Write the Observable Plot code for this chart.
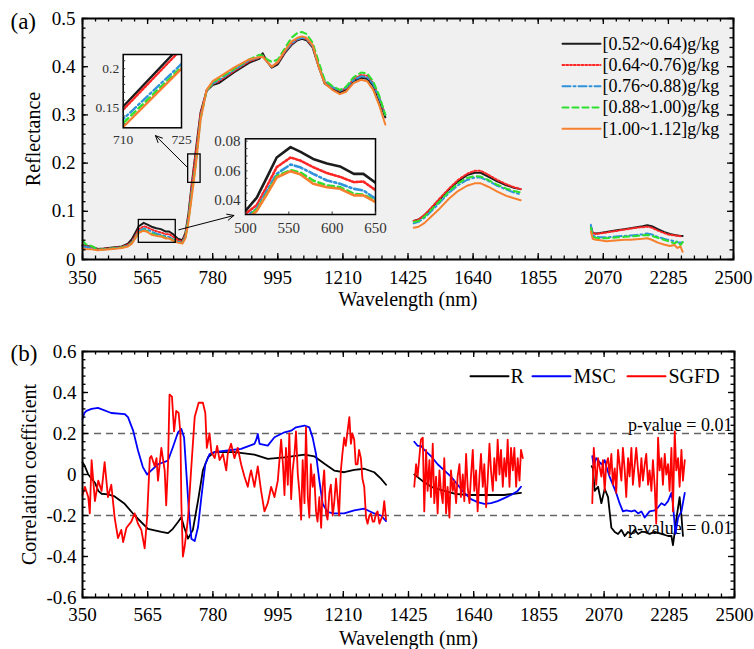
<!DOCTYPE html>
<html>
<head>
<meta charset="utf-8">
<script src="https://cdn.jsdelivr.net/npm/d3@7"></script>
<script src="https://cdn.jsdelivr.net/npm/@observablehq/plot@0.6"></script>
<style>
  body { margin: 0; background: #fff; }
  #wrap { position: relative; width: 754px; height: 649px; overflow: hidden; }
  #wrap > svg { display: block; }
</style>
</head>
<body>
<div id="wrap"></div>
<script>
const FONT = '"Liberation Serif", "Times New Roman", Times, serif';

// ---------------- Panel (a): reflectance ----------------
const waveA1 = [350,360,380,400,420,450,480,500,513,525,536,552,563,578,594,609,625,636,650,665,680,690,700,710,725,740,760,780,800,850,900,935,945,960,975,995,1020,1040,1060,1075,1090,1110,1130,1150,1175,1200,1220,1245,1270,1290,1310,1330,1350];
const waveA2 = [1444,1460,1480,1500,1530,1560,1590,1620,1645,1665,1690,1720,1750,1775,1797];
const waveA3 = [2029,2035,2045,2060,2080,2100,2120,2140,2160,2180,2200,2215,2230,2250,2270,2290,2305,2315,2325,2332];

const refl1_1 = [0.030,0.028,0.027,0.022,0.023,0.025,0.027,0.033,0.042,0.056,0.069,0.076,0.073,0.068,0.065,0.063,0.058,0.058,0.052,0.043,0.040,0.055,0.095,0.152,0.230,0.305,0.350,0.362,0.366,0.388,0.408,0.417,0.428,0.410,0.398,0.405,0.430,0.445,0.455,0.458,0.455,0.440,0.400,0.365,0.355,0.347,0.352,0.370,0.377,0.375,0.360,0.330,0.295];
const refl1_2 = [0.080,0.083,0.092,0.105,0.125,0.145,0.162,0.175,0.180,0.180,0.172,0.162,0.154,0.149,0.146];
const refl1_3 = [0.068,0.055,0.054,0.055,0.057,0.059,0.061,0.063,0.065,0.067,0.069,0.071,0.069,0.063,0.057,0.053,0.051,0.050,0.049,0.049];

const refl2_1 = [0.028,0.027,0.025,0.021,0.022,0.024,0.026,0.031,0.037,0.050,0.0625,0.069,0.067,0.0625,0.0585,0.056,0.0524,0.0528,0.047,0.040,0.037,0.052,0.090,0.148,0.225,0.303,0.351,0.364,0.370,0.391,0.411,0.419,0.424,0.410,0.400,0.408,0.432,0.447,0.457,0.460,0.457,0.442,0.402,0.368,0.357,0.350,0.355,0.374,0.383,0.381,0.366,0.336,0.300];
const refl2_2 = [0.080,0.083,0.093,0.106,0.127,0.147,0.165,0.178,0.184,0.184,0.176,0.165,0.156,0.150,0.146];
const refl2_3 = [0.068,0.055,0.053,0.054,0.056,0.058,0.060,0.062,0.064,0.066,0.067,0.068,0.066,0.060,0.055,0.051,0.050,0.049,0.048,0.048];

const refl3_1 = [0.027,0.026,0.024,0.020,0.021,0.023,0.025,0.029,0.0345,0.0468,0.058,0.0643,0.0625,0.058,0.0535,0.0513,0.0479,0.0468,0.0412,0.037,0.035,0.048,0.085,0.136,0.206,0.295,0.350,0.365,0.372,0.393,0.413,0.420,0.422,0.410,0.400,0.410,0.433,0.448,0.457,0.460,0.458,0.443,0.403,0.370,0.358,0.350,0.356,0.372,0.380,0.378,0.364,0.335,0.300];
const refl3_2 = [0.075,0.078,0.087,0.099,0.118,0.138,0.154,0.165,0.170,0.170,0.163,0.153,0.145,0.139,0.135];
const refl3_3 = [0.072,0.050,0.047,0.046,0.046,0.047,0.048,0.049,0.050,0.051,0.052,0.054,0.052,0.047,0.043,0.040,0.038,0.036,0.035,0.036];

const refl4_1 = [0.040,0.032,0.028,0.021,0.021,0.023,0.025,0.028,0.034,0.045,0.0565,0.0605,0.059,0.0535,0.0502,0.049,0.0446,0.044,0.040,0.036,0.034,0.046,0.082,0.131,0.202,0.292,0.350,0.367,0.375,0.395,0.415,0.425,0.423,0.415,0.410,0.415,0.440,0.460,0.470,0.472,0.468,0.450,0.410,0.372,0.360,0.352,0.358,0.378,0.388,0.386,0.370,0.340,0.300];
const refl4_2 = [0.078,0.080,0.089,0.102,0.121,0.141,0.158,0.169,0.173,0.172,0.165,0.155,0.147,0.142,0.139];
const refl4_3 = [0.066,0.047,0.045,0.044,0.044,0.045,0.046,0.047,0.048,0.049,0.050,0.051,0.049,0.045,0.041,0.037,0.033,0.038,0.030,0.036];

const refl5_1 = [0.023,0.022,0.021,0.019,0.020,0.022,0.024,0.027,0.033,0.0445,0.0555,0.0598,0.0577,0.0513,0.049,0.0479,0.0435,0.0435,0.039,0.035,0.033,0.044,0.078,0.126,0.200,0.290,0.352,0.370,0.378,0.398,0.415,0.420,0.420,0.410,0.400,0.410,0.435,0.452,0.460,0.463,0.460,0.445,0.400,0.365,0.352,0.343,0.348,0.366,0.373,0.370,0.352,0.320,0.280];
const refl5_2 = [0.066,0.068,0.076,0.088,0.106,0.126,0.142,0.153,0.158,0.158,0.151,0.141,0.132,0.127,0.123];
const refl5_3 = [0.058,0.043,0.041,0.040,0.038,0.039,0.040,0.041,0.041,0.042,0.043,0.044,0.041,0.035,0.031,0.028,0.030,0.024,0.027,0.016];

const classNames = ["[0.52~0.64)g/kg","[0.64~0.76)g/kg","[0.76~0.88)g/kg","[0.88~1.00)g/kg","[1.00~1.12]g/kg"];

// zoom boxes and arrows (data coordinates)
const boxEdge = {x1: 699, x2: 740, y1: 0.159, y2: 0.218};
const boxGreen = {x1: 536, x2: 658, y1: 0.0346, y2: 0.082};
const zoomArrows = [
  {x1: 696, y1: 0.1915, x2: 591, y2: 0.257},
  {x1: 668, y1: 0.0616, x2: 850, y2: 0.0913}
];
const inset1X = [710, 725];
const inset1Y = [0.15, 0.2];
const inset2X = [500, 550, 600, 650];
const inset2Y = [0.04, 0.06, 0.08];

// ---------------- Panel (b): correlation ----------------
const corrR1 = [[350,0.06],[358,0.04],[369,0.0],[380,-0.02],[391,-0.04],[402,-0.08],[413,-0.094],[434,-0.097],[456,-0.107],[489,-0.143],[522,-0.20],[566,-0.265],[610,-0.28],[632,-0.286],[648,-0.265],[665,-0.232],[676,-0.208],[685,-0.256],[698,-0.313],[714,-0.27],[731,-0.127],[747,0.02],[764,0.084],[785,0.109],[851,0.109],[917,0.097],[961,0.076],[1016,0.084],[1082,0.097],[1115,0.088],[1148,0.052],[1180,0.019],[1213,0.011],[1246,0.023],[1279,0.028],[1312,0.011],[1334,-0.02],[1351,-0.05]];
const corrR2 = [[1444,0.0],[1470,-0.03],[1500,-0.06],[1543,-0.08],[1580,-0.095],[1620,-0.10],[1680,-0.10],[1740,-0.10],[1796,-0.09]];
const corrR3 = [[2029,0.04],[2033,0.03],[2039,-0.08],[2050,-0.06],[2061,-0.14],[2072,-0.07],[2083,-0.11],[2094,-0.26],[2105,-0.28],[2116,-0.29],[2127,-0.27],[2138,-0.30],[2149,-0.28],[2160,-0.29],[2171,-0.27],[2182,-0.29],[2193,-0.28],[2204,-0.28],[2220,-0.29],[2237,-0.28],[2259,-0.29],[2281,-0.30],[2292,-0.30],[2297,-0.345],[2303,-0.28],[2308,-0.22],[2319,-0.11],[2325,-0.20],[2330,-0.30]];

const corrMSC1 = [[350,0.27],[356,0.30],[363,0.31],[380,0.32],[401,0.325],[445,0.30],[489,0.295],[500,0.28],[517,0.214],[533,0.117],[549,0.036],[563,0.0],[577,0.02],[599,0.05],[632,0.068],[648,0.133],[665,0.206],[676,0.222],[685,0.18],[692,0.02],[700,-0.16],[709,-0.313],[720,-0.325],[731,-0.256],[742,-0.11],[755,0.05],[769,0.10],[785,0.109],[829,0.117],[873,0.125],[917,0.149],[923,0.17],[928,0.198],[934,0.149],[961,0.141],[983,0.182],[1016,0.206],[1038,0.214],[1054,0.23],[1082,0.239],[1098,0.23],[1109,0.18],[1120,0.10],[1131,-0.03],[1142,-0.143],[1158,-0.183],[1180,-0.19],[1213,-0.19],[1246,-0.175],[1279,-0.167],[1312,-0.19],[1334,-0.20],[1351,-0.227]];
const corrMSC2 = [[1444,0.16],[1455,0.14],[1466,0.14],[1477,0.12],[1499,0.09],[1521,0.05],[1543,0.02],[1565,-0.01],[1587,-0.05],[1609,-0.09],[1631,-0.12],[1653,-0.135],[1675,-0.143],[1697,-0.14],[1719,-0.13],[1741,-0.115],[1763,-0.10],[1785,-0.08],[1796,-0.06]];
const corrMSC3 = [[2031,0.09],[2036,0.04],[2044,0.08],[2061,0.05],[2072,0.07],[2077,0.04],[2088,-0.01],[2099,-0.05],[2110,-0.09],[2121,-0.14],[2132,-0.18],[2143,-0.175],[2160,-0.18],[2171,-0.175],[2182,-0.19],[2193,-0.18],[2204,-0.21],[2220,-0.18],[2237,-0.175],[2248,-0.16],[2259,-0.14],[2270,-0.15],[2281,-0.13],[2292,-0.09],[2297,-0.14],[2305,-0.29],[2314,-0.21],[2325,-0.18],[2336,-0.09]];

const corrSG1 = [[350,-0.10],[358,-0.06],[369,-0.11],[374,-0.19],[380,0.07],[391,-0.13],[402,-0.03],[413,-0.08],[423,0.06],[434,-0.11],[445,-0.05],[456,-0.21],[467,-0.31],[478,-0.27],[484,-0.33],[495,-0.26],[511,-0.23],[522,-0.19],[533,-0.24],[544,-0.27],[555,-0.36],[563,-0.21],[572,0.08],[577,0.09],[588,0.04],[594,0.08],[599,-0.03],[610,0.13],[621,0.02],[626,-0.15],[632,0.05],[637,0.39],[645,0.38],[652,0.21],[659,0.31],[667,0.30],[673,0.20],[676,-0.14],[681,-0.40],[687,-0.35],[692,-0.29],[698,-0.21],[709,0.04],[720,0.28],[733,0.35],[747,0.35],[755,0.30],[760,0.13],[769,0.20],[775,0.11],[786,0.08],[794,0.14],[802,0.07],[813,0.10],[824,0.02],[829,0.10],[840,0.15],[851,0.08],[862,0.13],[873,0.05],[884,-0.01],[895,-0.06],[901,-0.01],[906,0.02],[917,-0.06],[928,0.04],[939,-0.08],[950,-0.18],[961,-0.14],[972,-0.06],[983,-0.11],[994,-0.03],[1005,0.17],[1011,0.05],[1016,-0.10],[1021,0.13],[1027,-0.05],[1032,0.20],[1038,-0.12],[1043,0.02],[1049,0.10],[1054,0.21],[1060,0.00],[1065,-0.08],[1071,-0.22],[1076,0.07],[1082,-0.14],[1087,0.23],[1093,-0.11],[1098,-0.21],[1103,0.05],[1109,-0.06],[1114,0.00],[1120,-0.18],[1125,-0.23],[1131,-0.11],[1137,-0.26],[1142,-0.06],[1147,0.02],[1153,-0.19],[1158,-0.22],[1164,-0.09],[1169,-0.05],[1175,-0.20],[1180,-0.14],[1186,-0.02],[1191,-0.11],[1196,-0.20],[1202,0.02],[1207,0.10],[1213,0.18],[1218,0.14],[1224,0.21],[1230,0.28],[1235,0.15],[1240,0.20],[1246,0.17],[1251,0.05],[1257,0.05],[1262,0.12],[1268,0.08],[1273,-0.02],[1279,-0.06],[1285,-0.21],[1290,-0.24],[1296,-0.20],[1301,-0.19],[1307,-0.23],[1312,-0.23],[1318,-0.19],[1323,-0.18],[1329,-0.24],[1334,-0.22],[1340,-0.20],[1345,-0.13],[1351,-0.22]];
const corrSG2 = [[1444,-0.06],[1450,0.05],[1455,-0.01],[1466,0.17],[1472,0.18],[1477,-0.18],[1483,0.12],[1488,-0.08],[1494,0.07],[1499,-0.11],[1505,0.15],[1510,-0.14],[1516,-0.01],[1521,-0.19],[1527,0.02],[1532,-0.08],[1538,-0.14],[1543,0.08],[1549,-0.19],[1554,-0.06],[1560,-0.21],[1565,0.02],[1571,-0.08],[1576,-0.03],[1582,-0.14],[1587,-0.01],[1593,0.05],[1598,-0.11],[1604,0.00],[1609,-0.13],[1615,0.10],[1620,-0.06],[1626,-0.14],[1631,-0.01],[1637,0.12],[1642,-0.08],[1648,0.02],[1653,-0.18],[1659,-0.01],[1664,0.10],[1670,-0.06],[1675,0.05],[1681,-0.16],[1686,-0.03],[1692,0.15],[1697,0.02],[1703,-0.08],[1708,0.08],[1714,-0.03],[1719,0.17],[1725,0.00],[1730,0.12],[1736,-0.06],[1741,0.08],[1747,-0.01],[1752,0.17],[1758,-0.06],[1763,0.13],[1769,0.02],[1774,0.13],[1780,-0.06],[1785,0.08],[1791,-0.03],[1796,0.12],[1802,0.08]];
const corrSG3 = [[2031,-0.14],[2036,0.13],[2044,-0.05],[2050,0.08],[2061,-0.01],[2066,0.07],[2072,-0.08],[2077,0.05],[2083,0.08],[2088,0.00],[2094,0.10],[2099,-0.05],[2105,0.03],[2110,-0.09],[2116,0.12],[2121,0.05],[2127,-0.03],[2132,0.13],[2138,0.02],[2143,-0.11],[2149,0.08],[2154,-0.01],[2160,0.13],[2165,-0.05],[2171,0.05],[2176,0.13],[2182,0.02],[2187,-0.06],[2193,0.08],[2198,-0.03],[2204,0.05],[2209,0.10],[2215,-0.05],[2220,0.02],[2226,-0.08],[2231,0.07],[2237,-0.06],[2242,-0.24],[2248,0.18],[2253,0.02],[2259,0.08],[2264,-0.05],[2270,0.10],[2275,0.00],[2281,0.05],[2286,-0.08],[2292,0.13],[2297,-0.18],[2303,0.21],[2308,0.02],[2314,0.08],[2319,-0.06],[2325,0.12],[2330,-0.03],[2336,0.07]];

const methodNames = ["R", "MSC", "SGFD"];
const pLevels = [0.2, -0.2];
const pLabel = "p-value = 0.01";

// ---------------- ticks ----------------
const xTicks = [350,565,780,995,1210,1425,1640,1855,2070,2285,2500];
const xMinorTicks = d3.range(350, 2501, 43);
const yTicksA = [0, 0.1, 0.2, 0.3, 0.4, 0.5];
const yMinorA = d3.range(0, 0.5001, 0.02);
const yTicksB = [-0.6, -0.4, -0.2, 0, 0.2, 0.4, 0.6];
const yMinorB = d3.range(-0.6, 0.6001, 0.04);

// ---------------- build series ----------------
const waves = [waveA1, waveA2, waveA3];
const reflSeries = [
  {name: classNames[0], segs: [refl1_1, refl1_2, refl1_3], stroke: "#1c1c1c", dash: null, width: 2},
  {name: classNames[1], segs: [refl2_1, refl2_2, refl2_3], stroke: "#ff2626", dash: "1.8,2", width: 2},
  {name: classNames[2], segs: [refl3_1, refl3_2, refl3_3], stroke: "#2f93dc", dash: "8,3,2,3", width: 2},
  {name: classNames[3], segs: [refl4_1, refl4_2, refl4_3], stroke: "#2ee02e", dash: "6,4", width: 2},
  {name: classNames[4], segs: [refl5_1, refl5_2, refl5_3], stroke: "#f7802e", dash: null, width: 2}
];
reflSeries.forEach(s => {
  s.rows = [];
  waves.forEach((W, k) => W.forEach((w, i) => s.rows.push({w, v: s.segs[k][i], seg: k})));
});

const corrSeries = [
  {name: methodNames[0], segs: [corrR1, corrR2, corrR3], stroke: "#000000"},
  {name: methodNames[1], segs: [corrMSC1, corrMSC2, corrMSC3], stroke: "#0000ff"},
  {name: methodNames[2], segs: [corrSG1, corrSG2, corrSG3], stroke: "#ff0000"}
];
corrSeries.forEach(s => {
  s.rows = [];
  s.segs.forEach((seg, k) => seg.forEach(([w, v]) => s.rows.push({w, v, seg: k})));
});

const lineShape = {draw(context, l) { context.moveTo(0, 0); context.lineTo(0, -l); }};
const fmt1 = d => d === 0 ? "0" : d.toFixed(1);

// Inward frame ticks as short rules; tick length (px) converted to data units
function frameTicks(xd, yd, W, H, xT, xM, yT, yM, opts = {}) {
  const {stroke = "#000", strokeWidth = 1.3, major = 6, minor = 3.5, sides = "tblr"} = opts;
  const ux = (xd[1] - xd[0]) / W, uy = (yd[1] - yd[0]) / H;
  const out = [];
  const addX = (ticks, len) => {
    if (!ticks.length) return;
    if (sides.includes("b")) out.push(Plot.ruleX(ticks, {x: d => d, y1: yd[0], y2: yd[0] + len * uy, stroke, strokeWidth}));
    if (sides.includes("t")) out.push(Plot.ruleX(ticks, {x: d => d, y1: yd[1], y2: yd[1] - len * uy, stroke, strokeWidth}));
  };
  const addY = (ticks, len) => {
    if (!ticks.length) return;
    if (sides.includes("l")) out.push(Plot.ruleY(ticks, {y: d => d, x1: xd[0], x2: xd[0] + len * ux, stroke, strokeWidth}));
    if (sides.includes("r")) out.push(Plot.ruleY(ticks, {y: d => d, x1: xd[1], x2: xd[1] - len * ux, stroke, strokeWidth}));
  };
  addX(xM, minor); addX(xT, major); addY(yM, minor); addY(yT, major);
  return out;
}

function tickLabels(xT, yT, yFmt, xPad, yPad, fontSize) {
  return [
    Plot.axisX(xT, {anchor: "bottom", tickSize: 0, tickPadding: xPad, tickFormat: d => String(d), label: null, fontSize}),
    Plot.axisY(yT, {anchor: "left", tickSize: 0, tickPadding: yPad, tickFormat: yFmt, label: null, fontSize})
  ];
}

const wrap = document.getElementById("wrap");
const xDom = [350, 2500], yDomA = [0, 0.5], yDomB = [-0.6, 0.6];

// ---------- panel (a) ----------
const plotA = Plot.plot({
  width: 754, height: 315,
  marginTop: 18, marginBottom: 56, marginLeft: 82, marginRight: 21,
  x: {domain: xDom, label: null},
  y: {domain: yDomA, label: null},
  style: {fontFamily: FONT, fontSize: "19px", color: "#000", background: "transparent"},
  marks: [
    Plot.frame({fill: "#f0f0f0", stroke: "none"}),
    ...reflSeries.map(s => Plot.line(s.rows, {x: "w", y: "v", z: "seg", stroke: s.stroke, strokeWidth: s.width, strokeDasharray: s.dash})),
    Plot.rect([boxEdge, boxGreen], {x1: "x1", x2: "x2", y1: "y1", y2: "y2", fill: "none", stroke: "#000", strokeWidth: 1.3}),
    Plot.arrow(zoomArrows, {x1: "x1", y1: "y1", x2: "x2", y2: "y2", stroke: "#000", strokeWidth: 1, headLength: 11, headAngle: 50}),
    ...reflSeries.flatMap((s, i) => [
      Plot.vector([s], {frameAnchor: "top-right", dx: -171, dy: 25.3 + i * 21.25, length: 38, rotate: 90, anchor: "start", shape: lineShape, stroke: s.stroke, strokeWidth: s.width, strokeDasharray: s.dash}),
      Plot.text([s], {frameAnchor: "top-right", dx: -131, dy: 25.3 + i * 21.25, text: d => d.name, textAnchor: "start", lineAnchor: "middle", fontSize: 18})
    ]),
    ...tickLabels(xTicks, yTicksA, fmt1, 11, 7, 19),
    Plot.text(["Wavelength (nm)"], {frameAnchor: "bottom", dy: 40, textAnchor: "middle", lineAnchor: "middle", fontSize: 20}),
    Plot.text(["Reflectance"], {frameAnchor: "left", dx: -49, rotate: -90, textAnchor: "middle", lineAnchor: "middle", fontSize: 20}),
    Plot.text(["(a)"], {frameAnchor: "top-left", dx: -72, dy: 3, textAnchor: "start", lineAnchor: "middle", fontSize: 23}),
    Plot.frame({stroke: "#000", strokeWidth: 2}),
    ...frameTicks(xDom, yDomA, 651, 241, xTicks, xMinorTicks, yTicksA, yMinorA)
  ]
});
wrap.appendChild(plotA);

// ---------- panel (b) ----------
const legendB = [
  {s: corrSeries[0], lineDx: -264, textDx: -224},
  {s: corrSeries[1], lineDx: -202, textDx: -161},
  {s: corrSeries[2], lineDx: -107, textDx: -66}
];
const plotB = Plot.plot({
  width: 754, height: 334,
  marginTop: 36, marginBottom: 52, marginLeft: 82, marginRight: 20,
  x: {domain: xDom, label: null},
  y: {domain: yDomB, label: null},
  style: {fontFamily: FONT, fontSize: "19px", color: "#000", background: "transparent"},
  marks: [
    Plot.ruleY(pLevels, {stroke: "#666", strokeWidth: 1.3, strokeDasharray: "7,5"}),
    Plot.text([pLevels[0]], {x: 2500, y: d => d, text: () => pLabel, textAnchor: "end", lineAnchor: "bottom", dx: -2, dy: -3, fontSize: 18}),
    Plot.text([pLevels[1]], {x: 2500, y: d => d, text: () => pLabel, textAnchor: "end", lineAnchor: "top", dx: -2, dy: 6, fontSize: 18}),
    ...corrSeries.map(s => Plot.line(s.rows, {x: "w", y: "v", z: "seg", stroke: s.stroke, strokeWidth: 1.8})),
    ...legendB.flatMap(({s, lineDx, textDx}) => [
      Plot.vector([s], {frameAnchor: "top-right", dx: lineDx, dy: 24.7, length: 38, rotate: 90, anchor: "start", shape: lineShape, stroke: s.stroke, strokeWidth: 2}),
      Plot.text([s], {frameAnchor: "top-right", dx: textDx, dy: 24.7, text: d => d.name, textAnchor: "start", lineAnchor: "middle", fontSize: 20})
    ]),
    ...tickLabels(xTicks, yTicksB, fmt1, 10, 6, 19),
    Plot.text(["Wavelength (nm)"], {frameAnchor: "bottom", dy: 41, textAnchor: "middle", lineAnchor: "middle", fontSize: 20}),
    Plot.text(["Correlation coefficient"], {frameAnchor: "left", dx: -53, rotate: -90, textAnchor: "middle", lineAnchor: "middle", fontSize: 20}),
    Plot.text(["(b)"], {frameAnchor: "top-left", dx: -72, dy: 2, textAnchor: "start", lineAnchor: "middle", fontSize: 23}),
    Plot.frame({stroke: "#000", strokeWidth: 2}),
    ...frameTicks(xDom, yDomB, 652, 246, xTicks, xMinorTicks, yTicksB, yMinorB)
  ]
});
wrap.appendChild(plotB);

// inset 1 (red edge 710-725), laid over panel (a)
const in1X = [710, 725], in1Y = [0.125, 0.218];
const inset1 = Plot.plot({
  width: 95, height: 100,
  marginLeft: 32.7, marginRight: 4, marginTop: 4, marginBottom: 22.7,
  x: {domain: in1X, label: null},
  y: {domain: in1Y, label: null},
  style: {fontFamily: FONT, fontSize: "13.5px", color: "#333", background: "transparent", position: "absolute", left: "90px", top: "50px", overflow: "visible"},
  marks: [
    Plot.frame({fill: "#fff", stroke: "none"}),
    ...reflSeries.map(s => Plot.line(s.rows, {x: "w", y: "v", z: "seg", stroke: s.stroke, strokeWidth: 2.4, strokeDasharray: s.dash, clip: true})),
    Plot.axisX(inset1X, {anchor: "bottom", tickSize: 0, tickPadding: 7, tickFormat: d => String(d), label: null}),
    Plot.axisY(inset1Y, {anchor: "left", tickSize: 0, tickPadding: 4, tickFormat: d => String(d), label: null}),
    Plot.frame({stroke: "#000", strokeWidth: 1.5}),
    ...frameTicks(in1X, in1Y, 58.3, 73.3, [], [], [], d3.range(0.13, 0.2151, 0.01), {stroke: "#333", strokeWidth: 1, minor: 2.5, sides: "l"})
  ]
});
wrap.appendChild(inset1);

// inset 2 (green peak 500-650), laid over panel (a)
const in2X = [500, 650], in2Y = [0.0306, 0.0816];
const inset2 = Plot.plot({
  width: 164, height: 104,
  marginLeft: 30, marginRight: 4, marginTop: 4.3, marginBottom: 24,
  x: {domain: in2X, label: null},
  y: {domain: in2Y, label: null},
  style: {fontFamily: FONT, fontSize: "15px", color: "#333", background: "transparent", position: "absolute", left: "215px", top: "134px", overflow: "visible"},
  marks: [
    Plot.frame({fill: "#fff", stroke: "none"}),
    ...reflSeries.map(s => Plot.line(s.rows, {x: "w", y: "v", z: "seg", stroke: s.stroke, strokeWidth: 2.6, strokeDasharray: s.dash, clip: true})),
    Plot.axisX(inset2X, {anchor: "bottom", tickSize: 0, tickPadding: 8, tickFormat: d => String(d), label: null}),
    Plot.axisY(inset2Y, {anchor: "left", tickSize: 0, tickPadding: 5, tickFormat: d => d.toFixed(2), label: null}),
    Plot.frame({stroke: "#000", strokeWidth: 1.5}),
    ...frameTicks(in2X, in2Y, 130, 75.7, [], inset2X, [], d3.range(0.035, 0.0801, 0.005), {stroke: "#333", strokeWidth: 1, minor: 2.5, sides: "lb"})
  ]
});
wrap.appendChild(inset2);
</script>
</body>
</html>
